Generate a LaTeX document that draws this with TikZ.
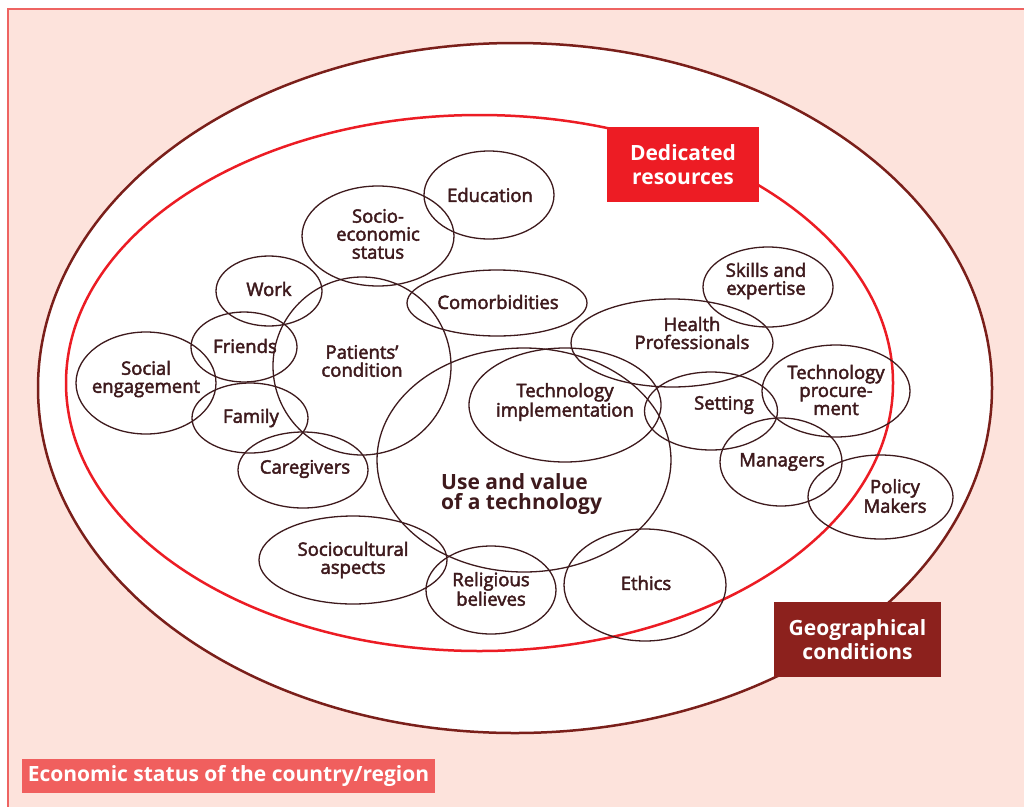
\documentclass[tikz,border=0pt]{standalone}
\usepackage{fontspec}
\setmainfont{Open Sans}
\newfontfamily\semib{Open Sans}[FakeBold=2.5]
\usetikzlibrary{shapes.geometric}
\definecolor{pinkbg}{HTML}{FDE3DC}
\definecolor{pinkline}{HTML}{EE6462}
\definecolor{outerc}{HTML}{7A1F1A}
\definecolor{redc}{HTML}{EC1C24}
\definecolor{txtc}{HTML}{3E1A1D}
\definecolor{dedc}{HTML}{ED1C24}
\definecolor{geoc}{HTML}{8C211D}
\definecolor{ecoc}{HTML}{F05F5E}
\begin{document}
\begin{tikzpicture}[x=1pt,y=-1pt,
  ell/.style={ellipse, draw=txtc, line width=1.3pt, inner sep=0pt, outer sep=0pt},
  lbl/.style={text=txtc, font=\semib\fontsize{18.5}{18}\selectfont, align=center, inner sep=0pt},
  boxn/.style={text=white, font=\bfseries\fontsize{21}{24}\selectfont, align=center, inner sep=0pt}]
\useasboundingbox (0,0) rectangle (1024,806);
\fill[white] (0,0) rectangle (1024,806);
\draw[draw=pinkline, fill=pinkbg, line width=2pt] (8,9) rectangle (1034,816);
\node[ellipse, draw=outerc, fill=white, line width=2.5pt, inner sep=0pt, minimum width=954, minimum height=690] (outer) at (515,388) {};
\node[ellipse, draw=redc, line width=2.5pt, inner sep=0pt, minimum width=827, minimum height=536] (inner) at (479.5,383) {};
% small ellipses
\node[ell, minimum width=130, minimum height=88] (edu) at (489,195) {};
\node[ell, minimum width=152, minimum height=100] (socio) at (378,236) {};
\node[ell, minimum width=106, minimum height=70] (work) at (269,291) {};
\node[ell, minimum width=180, minimum height=66] (comor) at (497,303) {};
\node[ell, minimum width=178, minimum height=178] (patient) at (362,366) {};
\node[ell, minimum width=106, minimum height=70] (friends) at (244,347) {};
\node[ell, minimum width=140, minimum height=102] (social) at (146,383) {};
\node[ell, minimum width=116, minimum height=70] (family) at (250,418) {};
\node[ell, minimum width=130, minimum height=76] (care) at (303,470) {};
\node[ell, minimum width=294, minimum height=224] (use) at (524,460) {};
\node[ell, minimum width=192, minimum height=114] (impl) at (565,405) {};
\node[ell, minimum width=202, minimum height=88] (health) at (672,343) {};
\node[ell, minimum width=130, minimum height=80] (skills) at (768,287) {};
\node[ell, minimum width=133, minimum height=78] (setting) at (711,411) {};
\node[ell, minimum width=148, minimum height=92] (proc) at (836,391) {};
\node[ell, minimum width=122, minimum height=88] (manag) at (781,462) {};
\node[ell, minimum width=145, minimum height=84] (policy) at (880.5,497) {};
\node[ell, minimum width=188, minimum height=88] (cult) at (353,560) {};
\node[ell, minimum width=130, minimum height=88] (relig) at (491,590) {};
\node[ell, minimum width=162, minimum height=112] (ethics) at (645,585) {};
% labels
\node[lbl] (t-edu) at (490,195) {Education};
\node[lbl] (t-socio) at (378,234) {Socio-\\economic\\status};
\node[lbl] (t-work) at (269,289) {Work};
\node[lbl] (t-comor) at (498,302) {Comorbidities};
\node[lbl] (t-patient) at (362,361) {Patients’\\condition};
\node[lbl] (t-friends) at (245,346) {Friends};
\node[lbl] (t-social) at (146,379) {Social\\engagement};
\node[lbl] (t-family) at (251,418) {Family};
\node[lbl] (t-care) at (305,469) {Caregivers};
\node[lbl] (t-impl) at (565,402) {Technology\\implementation};
\node[lbl] (t-health) at (692,333) {Health\\Professionals};
\node[lbl] (t-skills) at (766,281) {Skills and\\expertise};
\node[lbl] (t-setting) at (724,405) {Setting};
\node[lbl] (t-proc) at (836,390) {Technology\\procure-\\ment};
\node[lbl] (t-manag) at (782,462) {Managers};
\node[lbl] (t-policy) at (895,496) {Policy\\Makers};
\node[lbl] (t-cult) at (353,560) {Sociocultural\\aspects};
\node[lbl] (t-relig) at (491,589) {Religious\\believes};
\node[lbl] (t-ethics) at (646,583) {Ethics};
\node[text=txtc, font=\bfseries\fontsize{21}{20}\selectfont, align=left, inner sep=0pt, anchor=west] (t-use) at (441,494) {Use and value\\of a technology};
% boxes
\node[boxn, fill=dedc, minimum width=152, minimum height=75] (ded) at (683,164.5) {Dedicated\\resources};
\node[boxn, fill=geoc, minimum width=167, minimum height=75] (geo) at (857.5,639.5) {Geographical\\conditions};
\node[boxn, fill=ecoc, minimum width=413, minimum height=34] (eco) at (228.5,776) {Economic status of the country/region};
\end{tikzpicture}
\end{document}
